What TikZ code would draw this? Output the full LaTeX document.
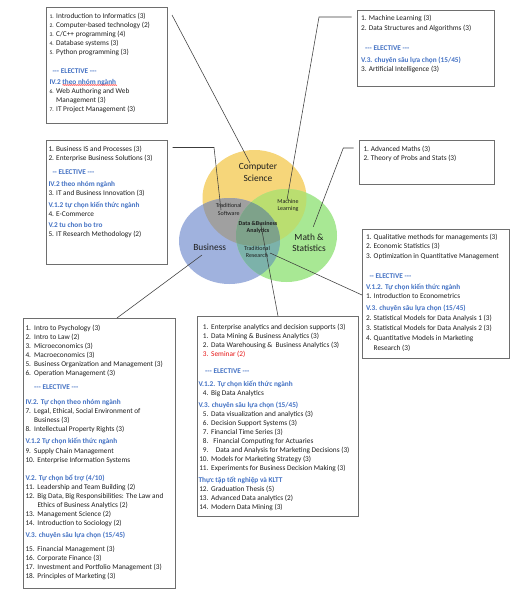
\documentclass[tikz,border=0pt]{standalone}
\usepackage{fontspec}
\setmainfont{Carlito}
\usetikzlibrary{decorations.pathmorphing}
\definecolor{hdr}{RGB}{68,114,196}
\definecolor{sem}{RGB}{230,20,20}
\definecolor{txt}{RGB}{30,30,30}
\definecolor{boxc}{RGB}{110,110,110}
\definecolor{linec}{RGB}{60,60,60}
\definecolor{csY}{RGB}{246,214,122}
\definecolor{buB}{RGB}{160,178,222}
\definecolor{maG}{RGB}{168,232,148}
\definecolor{cbX}{RGB}{160,160,160}
\definecolor{cmX}{RGB}{186,222,112}
\definecolor{bmX}{RGB}{124,178,170}
\definecolor{allX}{RGB}{126,162,138}
\newcommand{\lnum}[2][7.7pt]{\makebox[#1][l]{#2}}
\newcommand{\rnum}[1]{\makebox[10pt][r]{#1}\hspace{2.7pt}}
\newcommand{\hd}[1]{{\bfseries\color{hdr}#1}}
\newcommand{\st}{\rule{0pt}{6pt}}
\newcommand{\sn}[1]{{\fontsize{5.6}{9.1}\selectfont #1}}
\begin{document}
\begin{tikzpicture}[x=1pt,y=-1pt,
  box/.style={draw=boxc, line width=0.7pt, fill=white, inner sep=0pt, anchor=north west},
  lst/.style={anchor=north west, inner sep=0pt, align=left, font=\fontsize{7.3}{9.1}\selectfont, text=txt},
  conn/.style={draw=linec, line width=0.55pt},
  big/.style={font=\fontsize{9.4}{11.3}\selectfont, align=center, text=txt, inner sep=0pt},
  small/.style={font=\fontsize{6}{7.3}\selectfont, align=center, text=txt, inner sep=0pt}]
\fill[white] (0,0) rectangle (524,600);
\useasboundingbox (0,0) rectangle (524,600);

% Venn diagram
\fill[csY] (254.5,198) ellipse [x radius=52pt, y radius=48pt];
\fill[buB] (229.5,241) ellipse [x radius=50.5pt, y radius=43pt];
\fill[maG] (286.5,235.5) ellipse [x radius=50.5pt, y radius=46.5pt];
\begin{scope}
  \clip (254.5,198) ellipse [x radius=52pt, y radius=48pt];
  \fill[cbX] (229.5,241) ellipse [x radius=50.5pt, y radius=43pt];
  \fill[cmX] (286.5,235.5) ellipse [x radius=50.5pt, y radius=46.5pt];
\end{scope}
\begin{scope}
  \clip (229.5,241) ellipse [x radius=50.5pt, y radius=43pt];
  \fill[bmX] (286.5,235.5) ellipse [x radius=50.5pt, y radius=46.5pt];
\end{scope}
\begin{scope}
  \clip (254.5,198) ellipse [x radius=52pt, y radius=48pt];
  \clip (229.5,241) ellipse [x radius=50.5pt, y radius=43pt];
  \fill[allX] (286.5,235.5) ellipse [x radius=50.5pt, y radius=46.5pt];
\end{scope}

\node[big] (lcs) at (258,172.5) {Computer\\Science};
\node[big] (lbu) at (209.7,247) {Business};
\node[big] (lma) at (309,242.5) {Math \&\\Statistics};
\node[small] (lts) at (228.7,209.5) {Traditional\\Software};
\node[small] (lml) at (288,205.5) {Machine\\Learning};
\node[small, font=\bfseries\fontsize{6}{7.3}\selectfont] (lda) at (258,227.5) {Data \&Business\\Analytics};
\node[small] (ltr) at (257,252) {Traditional\\Research};

% Boxes
\node[box, minimum width=121.3pt, minimum height=116pt] (b1) at (45.7,6.7) {};
\node[box, minimum width=137pt, minimum height=76.6pt] (b2) at (357,9.7) {};
\node[box, minimum width=121.3pt, minimum height=124.6pt] (b3) at (45.7,139.7) {};
\node[box, minimum width=134.7pt, minimum height=44.3pt] (b4) at (359.3,139.7) {};
\node[box, minimum width=147.3pt, minimum height=129.3pt] (b5) at (361.7,228.7) {};
\node[box, minimum width=152.3pt, minimum height=269.7pt] (b6) at (22.7,318) {};
\node[box, minimum width=161.5pt, minimum height=199.7pt] (b7) at (196.5,316) {};

% Box texts
\node[lst] (t1) at (49.3,12.2) {\st\lnum[6.7pt]{\sn{1.}}Introduction to Informatics (3)\\
\lnum[6.7pt]{\sn{2.}}Computer-based technology (2)\\
\lnum[6.7pt]{\sn{3.}}C/C++ programming (4)\\
\lnum[6.7pt]{\sn{4.}}Database systems (3)\\
\lnum[6.7pt]{\sn{5.}}Python programming (3)\\[9.2pt]
\hspace*{3pt}\hd{-{}-{}- ELECTIVE -{}-{}-}\\[1.9pt]
\hd{IV.2 theo nhóm ngành}\\
\lnum[6.7pt]{\sn{6.}}Web Authoring and Web\\
\lnum[6.7pt]{}Management (3)\\
\lnum[6.7pt]{\sn{7.}}IT Project Management (3)};
\draw[red, line width=0.4pt, decorate, decoration={snake, amplitude=0.5pt, segment length=2pt}] (62.5,85) -- (117,85);

\node[lst, font=\fontsize{7.3}{9.5}\selectfont] (t2) at (361,14.2) {\st\lnum{1.}Machine Learning (3)\\[0.8pt]
\lnum{2.}Data Structures and Algorithms (3)\\[9.9pt]
\hspace*{4pt}\hd{-{}-{}- ELECTIVE -{}-{}-}\\[2.8pt]
\hd{V.3. chuyên sâu lựa chọn (15/45)}\\
\lnum{3.}Artificial Intelligence (3)};

\node[lst, font=\fontsize{7.3}{9.2}\selectfont] (t3) at (48.3,144.9) {\st\lnum{1.}Business IS and Processes (3)\\
\lnum{2.}Enterprise Business Solutions (3)\\[5.1pt]
\hspace*{4pt}\hd{-{}- ELECTIVE -{}-{}-}\\[2.2pt]
\hd{IV.2 theo nhóm ngành}\\
\lnum{3.}IT and Business Innovation (3)\\[3.1pt]
\hd{V.1.2 tự chọn kiến thức ngành}\\
\lnum{4.}E-Commerce\\[1.8pt]
\hd{V.2 tu chon bo tro}\\
\lnum{5.}IT Research Methodology (2)};

\node[lst, font=\fontsize{7.3}{9.3}\selectfont] (t4) at (363.3,144.9) {\st\lnum[7.4pt]{1.}Advanced Maths (3)\\
\lnum[7.4pt]{2.}Theory of Probs and Stats (3)};

\node[lst, font=\fontsize{7.3}{9.9}\selectfont] (t5) at (365.8,232.9) {\st\lnum{1.}Qualitative methods for managements (3)\\[-0.6pt]
\lnum{2.}Economic Statistics (3)\\[0.4pt]
\lnum{3.}Optimization in Quantitative Management\\[9.5pt]
\hspace*{3.5pt}\hd{-{}- ELECTIVE -{}-{}-}\\[1.1pt]
\hd{V.1.2. Tự chọn kiến thức ngành}\\[-0.6pt]
\lnum{1.}Introduction to Econometrics\\[2.4pt]
\hd{V.3. chuyên sâu lựa chọn (15/45)}\\
\lnum{2.}Statistical Models for Data Analysis 1 (3)\\
\lnum{3.}Statistical Models for Data Analysis 2 (3)\\
\lnum{4.}Quantitative Models in Marketing\\
\lnum{}Research (3)};

\node[lst, font=\fontsize{7.3}{9}\selectfont] (t6) at (25.3,324.5) {\st\lnum[8.7pt]{1.}Intro to Psychology (3)\\
\lnum[8.7pt]{2.}Intro to Law (2)\\
\lnum[8.7pt]{3.}Microeconomics (3)\\
\lnum[8.7pt]{4.}Macroeconomics (3)\\
\lnum[8.7pt]{5.}Business Organization and Management (3)\\
\lnum[8.7pt]{6.}Operation Management (3)\\[4.3pt]
\hspace*{8.7pt}\hd{-{}-{}- ELECTIVE -{}-{}-}\\[6.7pt]
\hd{IV.2. Tự chọn theo nhóm ngành}\\
\lnum[8.7pt]{7.}Legal, Ethical, Social Environment of\\
\lnum[8.7pt]{}Business (3)\\
\lnum[8.7pt]{8.}Intellectual Property Rights (3)\\[2.7pt]
\hd{V.1.2 Tự chọn kiến thức ngành}\\[1pt]
\lnum[8.7pt]{9.}Supply Chain Management\\
\lnum[12pt]{10.}Enterprise Information Systems\\[8.7pt]
\hd{V.2. Tự chọn bổ trợ (4/10)}\\
\lnum[12pt]{11.}Leadership and Team Building (2)\\
\lnum[12pt]{12.}Big Data, Big Responsibilities: The Law and\\
\lnum[12pt]{}Ethics of Business Analytics (2)\\
\lnum[12pt]{13.}Management Science (2)\\
\lnum[12pt]{14.}Introduction to Sociology (2)\\[3.7pt]
\hd{V.3. chuyên sâu lựa chọn (15/45)}\\[5pt]
\lnum[12pt]{15.}Financial Management (3)\\
\lnum[12pt]{16.}Corporate Finance (3)\\
\lnum[12pt]{17.}Investment and Portfolio Management (3)\\
\lnum[12pt]{18.}Principles of Marketing (3)};

\node[lst, font=\fontsize{7.3}{9}\selectfont] (t7) at (198.3,322.9) {\st\rnum{1.}Enterprise analytics and decision supports (3)\\
\rnum{1.}Data Mining \& Business Analytics (3)\\
\rnum{2.}Data Warehousing \&\ \ Business Analytics (3)\\
{\color{sem}\rnum{3.}Seminar (2)}\\[8.7pt]
\hspace*{6.7pt}\hd{-{}-{}- ELECTIVE -{}-{}-}\\[3.3pt]
\hd{V.1.2. Tự chọn kiến thức ngành}\\
\rnum{4.}Big Data Analytics\\[3pt]
\hd{V.3. chuyên sâu lựa chọn (15/45)}\\
\rnum{5.}Data visualization and analytics (3)\\
\rnum{6.}Decision Support Systems (3)\\
\rnum{7.}Financial Time Series (3)\\
\rnum{8.}\hspace{2.3pt}Financial Computing for Actuaries\\
\rnum{9.}\hspace{4.7pt}Data and Analysis for Marketing Decisions (3)\\
\rnum{10.}Models for Marketing Strategy (3)\\
\rnum{11.}Experiments for Business Decision Making (3)\\[3pt]
\hd{Thực tập tốt nghiệp và KLTT}\\
\rnum{12.}Graduation Thesis (5)\\
\rnum{13.}Advanced Data analytics (2)\\
\rnum{14.}Modern Data Mining (3)};

% Connectors
\coordinate (k1a) at (172,15);     \coordinate (k1b) at (250,163);
\coordinate (k2a) at (351.7,17);   \coordinate (k2m) at (319,17);    \coordinate (k2b) at (287,200);
\coordinate (k3a) at (172.7,147.5);\coordinate (k3m) at (214,147.5); \coordinate (k3b) at (221,210);
\coordinate (k4a) at (353.5,148);  \coordinate (k4m) at (343.3,148); \coordinate (k4b) at (313.3,226.7);
\coordinate (k5a) at (270,253);    \coordinate (k5b) at (362,295);
\coordinate (k6a) at (202,255);    \coordinate (k6b) at (117,318);
\coordinate (k7a) at (260.5,223);  \coordinate (k7b) at (278,316);
\draw[conn] (k1a) -- (k1b);
\draw[conn] (k2a) -- (k2m) -- (k2b);
\draw[conn] (k3a) -- (k3m) -- (k3b);
\draw[conn] (k4a) -- (k4m) -- (k4b);
\draw[conn] (k5a) -- (k5b);
\draw[conn] (k6a) -- (k6b);
\draw[conn] (k7a) -- (k7b);
\end{tikzpicture}
\end{document}
